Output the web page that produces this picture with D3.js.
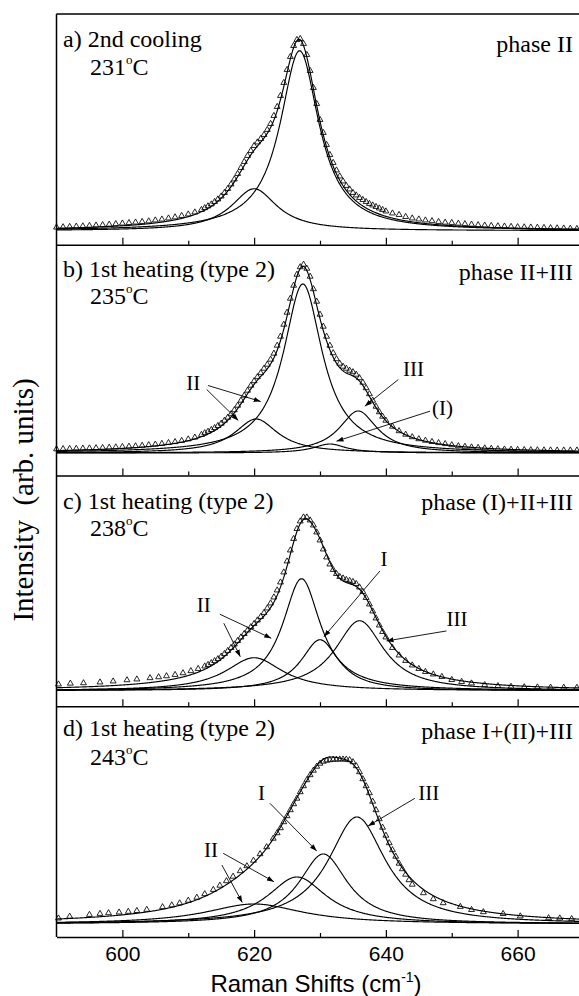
<!DOCTYPE html>
<html>
<head>
<meta charset="utf-8">
<script src="https://cdn.jsdelivr.net/npm/d3@7"></script>
<style>
  html, body { margin: 0; padding: 0; background: #fff; }
  svg { display: block; }
</style>
</head>
<body>
<svg id="chart" width="579" height="996"></svg>
<script>
// ---------- measured Raman spectra: shift (cm^-1) and intensity (arb. units) ----------
const shiftA = [590,591,592,593,594,595,596,597,598,599,600,601,602,603,604,605,606,607,608,609,610,611,612,
  612.5,613,613.5,614,614.5,615,615.5,616,616.5,617,617.5,618,618.5,619,619.5,620,620.5,621,621.5,622,622.5,623,623.5,624,624.5,625,625.5,626,626.5,627,
  627.5,628,628.5,629,629.5,630,630.5,631,631.5,632,632.5,633,633.5,634,634.5,635,635.5,636,636.5,637,637.5,638,638.5,639,639.5,640,
  641,642,643,644,645,646,647,648,649,650,651,652,653,654,655,656,657,658,659,660,661,662,663,664,665,666,667,668,669];
const intensityA = [17.4,17.7,18.0,18.3,18.6,19.0,19.4,19.8,20.3,20.8,21.4,21.9,22.4,23.0,23.6,24.5,25.4,26.5,27.6,29.0,30.5,32.5,35.0,
  36.8,38.6,40.5,43.0,45.5,48.5,52.0,56.0,60.5,65.5,71.0,77.0,83.0,89.0,94.0,99.0,102.5,106.0,110.0,115.0,121.0,129.0,138.0,149.0,162.0,175.0,188.0,199.0,205.0,206.0,
  201.0,190.0,174.0,157.0,141.0,125.0,112.0,100.0,90.0,82.0,74.5,68.5,63.5,59.0,55.5,52.0,49.5,47.0,45.0,43.0,41.0,39.5,38.0,36.5,35.0,33.5,
  31.5,30.0,28.0,26.5,25.5,24.5,23.8,23.0,22.3,22.0,21.3,20.8,20.3,19.8,19.4,19.0,18.7,18.4,18.1,17.8,17.6,17.4,17.2,17.0,16.8,16.6,16.4,16.2,16.0];

const shiftB = shiftA.slice();
const intensityB = [26.4,26.6,26.7,26.9,27.1,27.3,27.5,27.7,28.0,28.3,28.7,29.0,29.4,29.9,30.5,31.1,31.8,32.7,33.6,34.8,36.3,38.1,40.8,
  42.5,44.0,45.7,47.6,49.7,52.0,55.0,58.0,61.5,65.5,70.0,75.0,80.0,85.0,90.0,94.5,98.5,102.5,107.0,111.0,116.0,122.0,130.0,139.0,151.0,163.0,177.0,190.0,201.0,208.5,
  211.0,207.0,199.0,186.5,174.0,161.0,149.0,139.0,130.0,122.5,116.5,112.0,109.0,107.0,105.0,103.5,101.0,97.5,93.0,87.5,81.5,75.0,69.0,63.5,59.0,55.0,
  49.0,44.5,41.0,38.5,36.5,35.0,33.7,32.6,31.6,30.5,29.5,28.9,28.3,27.8,27.3,26.9,26.5,26.2,26.0,25.8,25.6,25.5,25.4,25.3,25.3,25.2,25.2,25.2,25.2];

const shiftC = [590.3,592.1,594.1,596.6,598.6,600.7,602.2,604.2,605.5,606.7,608,609.2,610.4,611.5,612.5,
  613,613.5,614,614.5,615,615.5,616,616.5,617,617.5,618,618.5,619,619.5,620,620.5,621,621.5,622,622.5,623,623.5,624,624.5,625,625.5,626,626.5,627,627.5,
  628,628.5,629,629.5,630,630.5,631,631.5,632,632.5,633,633.5,634,634.5,635,635.5,636,636.5,637,637.5,638,638.5,639,639.5,640,
  641,642,643,644,645,646,647.2,648.5,650,651.5,653,655,657,659,661,663,665,667,669];
const intensityC = [22.0,22.8,23.2,24.0,25.0,26.2,27.0,28.3,29.2,30.2,31.5,33.2,35.3,37.5,40.0,
  41.5,43.3,45.3,47.3,49.8,52.5,55.5,58.5,62.0,65.5,69.0,72.5,76.0,79.3,82.5,86.0,89.5,93.5,98.0,103.0,109.0,116.0,124.0,134.0,145.0,156.0,167.5,177.5,185.0,189.0,
  189.0,186.0,181.0,174.0,166.0,157.0,149.0,142.0,136.5,132.5,129.5,128.0,126.5,125.5,124.5,122.5,119.0,114.5,108.5,102.0,95.0,88.0,81.0,74.5,69.0,
  58.5,51.0,45.5,41.0,37.5,34.5,32.0,29.5,26.5,24.5,23.0,21.3,20.3,19.6,19.2,19.0,18.8,18.7,18.6];

const shiftD = [590.3,592,595,596.6,597.9,599.5,600.9,602.2,603.7,606.1,607.5,608.7,610,611.3,612.5,613.8,614.8,615.8,616.8,617.9,618.9,619.9,620.9,621.9,622.9,
  623.5,624,624.5,625,625.5,626,626.5,627,627.5,628,628.5,629,629.5,630,630.5,631,631.5,632,632.5,633,633.5,634,634.5,635,635.5,636,636.5,637,637.5,638,
  638.5,639,639.5,640,640.5,641,641.5,642,642.5,643,643.5,644,
  645.7,647.2,648.7,651.3,653,654.8,657.8,660.4,664.7,666.4,668.2];
const intensityD = [18.7,20.5,22.3,23.3,24.0,24.7,25.4,26.2,27.4,30.0,31.8,33.8,36.5,39.5,43.0,47.3,51.5,56.0,60.5,66.0,71.0,76.5,83.0,90.0,98.5,
  104.0,109.0,115.0,121.0,127.0,133.0,138.5,145.0,151.0,157.0,162.0,166.5,170.5,173.5,175.5,176.5,177.0,177.5,177.5,177.7,177.7,177.5,177.0,175.0,171.0,165.0,158.0,151.0,144.0,135.5,
  127.0,118.0,109.5,101.5,94.0,87.0,80.5,73.5,68.0,62.5,57.0,52.5,
  44.0,38.0,34.0,30.3,27.2,25.0,23.2,20.8,19.0,18.7,18.1];

// ---------- Lorentzian fit components: centre (cm^-1), height, half width ----------
const baselineLevels = [14, 22.5, 15.5, 13];
const centersA = [626.9, 620.0];
const heightsA = [180, 42];
const halfWidthsA = [3.6, 4.2];
const centersB = [627.4, 620.3, 635.8, 631.5];
const heightsB = [169, 34, 42, 9];
const halfWidthsB = [3.6, 4.0, 3.5, 3.0];
const centersC = [627.2, 620.0, 630.0, 636.0];
const heightsC = [112, 33, 51, 70];
const halfWidthsC = [3.5, 5.3, 3.5, 4.5];
const centersD = [620.0, 626.5, 630.5, 635.6];
const heightsD = [20, 47, 70, 107];
const halfWidthsD = [9.0, 5.5, 4.5, 5.3];

// ---------- labels ----------
const panelTitles = ["a) 2nd cooling", "b) 1st heating (type 2)", "c) 1st heating (type 2)", "d) 1st heating (type 2)"];
const temperatures = ["231", "235", "238", "243"];
const phaseLabels = ["phase II", "phase II+III", "phase (I)+II+III", "phase I+(II)+III"];
const xTicks = [600, 620, 640, 660];
const xMinorTicks = [610, 630, 650];

// ---------- layout ----------
const svg = d3.select("#chart");
const serif = "'Liberation Serif', 'Times New Roman', Times, serif";
const sans = "'Liberation Sans', Arial, Helvetica, sans-serif";
const plotLeft = 56.5, plotRight = 583.5, plotTop = 14, panelH = 230.75;
const x = d3.scaleLinear().domain([590, 670]).range([plotLeft, plotRight]);

svg.append("defs").append("marker")
  .attr("id", "arrowhead").attr("viewBox", "0 -5 10 10")
  .attr("refX", 10).attr("refY", 0)
  .attr("markerUnits", "userSpaceOnUse")
  .attr("markerWidth", 7).attr("markerHeight", 7)
  .attr("orient", "auto")
  .append("path").attr("d", "M0,-3.6L10,0L0,3.6Z").attr("fill", "#000");

const panels = [
  { shift: shiftA, intensity: intensityA, centers: centersA, heights: heightsA, widths: halfWidthsA, titleDy: 33, tempDy: 61, phaseDy: 37.5 },
  { shift: shiftB, intensity: intensityB, centers: centersB, heights: heightsB, widths: halfWidthsB, titleDy: 32.5, tempDy: 59.5, phaseDy: 35 },
  { shift: shiftC, intensity: intensityC, centers: centersC, heights: heightsC, widths: halfWidthsC, titleDy: 33, tempDy: 60.5, phaseDy: 34 },
  { shift: shiftD, intensity: intensityD, centers: centersD, heights: heightsD, widths: halfWidthsD, titleDy: 29.5, tempDy: 59, phaseDy: 33 }
];

// peak assignments with pointer arrows, given in (shift, intensity) of each panel
const callouts = [
  { labels: [], arrows: [] },
  { labels: [["II", 609.7, 86], ["III", 642.6, 99.3], ["(I)", 647.0, 61]],
    arrows: [[613.0, 90, 621.0, 74], [612.8, 86, 617.6, 55], [641.9, 96, 636.8, 69.3], [646.7, 64.3, 632.5, 34.3]] },
  { labels: [["II", 611.3, 94], ["I", 639.2, 140.3], ["III", 649.2, 80.3]],
    arrows: [[614.8, 92, 622.6, 68], [615.4, 83, 617.9, 49.5], [639.1, 135.3, 630.6, 69.5], [649.2, 75.3, 640.1, 65.3]] },
  { labels: [["I", 620.6, 137], ["II", 612.4, 80.3], ["III", 644.9, 137]],
    arrows: [[622.4, 133.7, 629.5, 86], [615.3, 83.7, 623.0, 55.3], [615.1, 72, 618.2, 34.5], [644.4, 138.7, 637.3, 111]] }
];

const lorentz = (s, c, h, w) => h / (1 + ((s - c) / w) ** 2);
const sampleShifts = d3.range(590, 670.001, 0.1);

panels.forEach((p, i) => {
  const top = plotTop + i * panelH;
  const bottom = top + panelH;
  const y = d3.scaleLinear().domain([0, panelH]).range([bottom, top]);
  const base = baselineLevels[i];
  const g = svg.append("g");

  // fitted components and their sum
  const line = d3.line().x(d => x(d[0])).y(d => y(d[1]));
  p.centers.forEach((c, k) => {
    const pts = sampleShifts.map(s => [s, base + lorentz(s, c, p.heights[k], p.widths[k])]);
    g.append("path").attr("d", line(pts)).attr("fill", "none").attr("stroke", "#000").attr("stroke-width", 1.15);
  });
  const envelope = sampleShifts.map(s => [s, base + d3.sum(p.centers, (c, k) => lorentz(s, c, p.heights[k], p.widths[k]))]);
  g.append("path").attr("d", line(envelope)).attr("fill", "none").attr("stroke", "#000").attr("stroke-width", 1.15);

  // measured points as open triangles
  const tri = d3.symbol().type(d3.symbolTriangle).size(15);
  g.selectAll("path.pt").data(p.shift.map((s, k) => [s, p.intensity[k]])).join("path")
    .attr("class", "pt")
    .attr("d", tri)
    .attr("transform", d => `translate(${x(d[0])},${y(d[1])})`)
    .attr("fill", "none").attr("stroke", "#000").attr("stroke-width", 0.85);

  // bottom axis of the panel, ticks pointing inward
  const major = d3.axisBottom(x).tickValues(xTicks).tickSizeInner(-7).tickSizeOuter(0).tickPadding(9)
    .tickFormat(i === 3 ? d3.format("d") : () => "");
  const ga = g.append("g").attr("transform", `translate(0,${bottom})`).call(major)
    .attr("font-family", sans).attr("font-size", 21);
  ga.select(".domain").attr("stroke-width", 1.5);
  ga.selectAll(".tick line").attr("stroke-width", 1.2);
  ga.selectAll(".tick text").attr("fill", "#000");
  const minor = d3.axisBottom(x).tickValues(xMinorTicks).tickSizeInner(-4).tickSizeOuter(0).tickFormat(() => "");
  const gm = g.append("g").attr("transform", `translate(0,${bottom})`).call(minor);
  gm.select(".domain").remove();
  gm.selectAll(".tick line").attr("stroke-width", 1.2);

  // panel texts
  g.append("text").attr("x", 63).attr("y", top + p.titleDy)
    .attr("font-family", serif).attr("font-size", 24).text(panelTitles[i]);
  const t = g.append("text").attr("x", 90).attr("y", top + p.tempDy)
    .attr("font-family", serif).attr("font-size", 24);
  t.append("tspan").text(temperatures[i]);
  t.append("tspan").attr("font-size", 13).attr("dy", -11).text("o");
  t.append("tspan").attr("dy", 11).text("C");
  g.append("text").attr("x", 573).attr("y", top + p.phaseDy).attr("text-anchor", "end")
    .attr("font-family", serif).attr("font-size", 24).text(phaseLabels[i]);

  // peak assignments
  const cl = callouts[i];
  cl.arrows.forEach(a => {
    g.append("line").attr("x1", x(a[0])).attr("y1", y(a[1])).attr("x2", x(a[2])).attr("y2", y(a[3]))
      .attr("stroke", "#000").attr("stroke-width", 0.9).attr("marker-end", "url(#arrowhead)");
  });
  cl.labels.forEach(l => {
    g.append("text").attr("x", x(l[1])).attr("y", y(l[2]))
      .attr("font-family", serif).attr("font-size", 21).text(l[0]);
  });
});

// outer frame: top edge and left edge
svg.append("line").attr("x1", plotLeft).attr("x2", plotRight).attr("y1", plotTop).attr("y2", plotTop)
  .attr("stroke", "#000").attr("stroke-width", 1.5);
svg.append("line").attr("x1", plotLeft).attr("x2", plotLeft).attr("y1", plotTop).attr("y2", plotTop + 4 * panelH)
  .attr("stroke", "#000").attr("stroke-width", 1.5);

// axis titles
const xl = svg.append("text").attr("x", 316).attr("y", 992).attr("text-anchor", "middle")
  .attr("font-family", sans).attr("font-size", 24);
xl.append("tspan").text("Raman Shifts (cm");
xl.append("tspan").attr("font-size", 14).attr("dy", -10).text("-1");
xl.append("tspan").attr("dy", 10).text(")");

svg.append("text").attr("transform", "translate(33,500) rotate(-90)").attr("text-anchor", "middle")
  .attr("xml:space", "preserve")
  .attr("font-family", serif).attr("font-size", 29).text("Intensity  (arb. units)");
</script>
</body>
</html>
